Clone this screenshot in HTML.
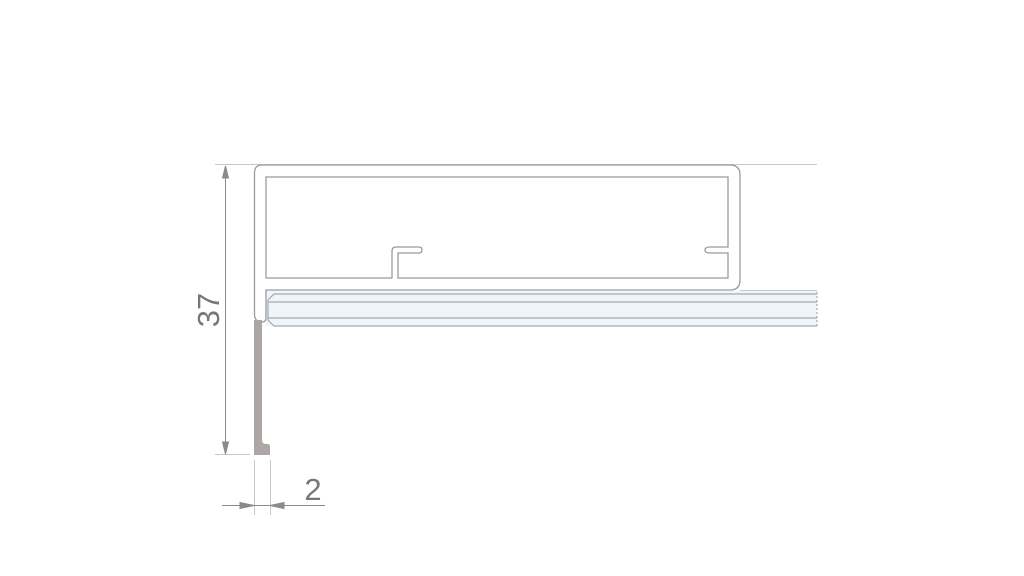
<!DOCTYPE html>
<html><head><style>body{margin:0;background:#fff}svg{display:block}</style></head><body>
<svg width="1024" height="576" viewBox="0 0 1024 576" xmlns="http://www.w3.org/2000/svg">
<g fill="none" stroke="#c8c8c8" stroke-width="1">
<line x1="215" y1="164.5" x2="817" y2="164.5"/>
<line x1="740" y1="290.5" x2="817" y2="290.5"/>
<line x1="215" y1="454.5" x2="250" y2="454.5"/>
<line x1="254.5" y1="460" x2="254.5" y2="515"/>
<line x1="270.5" y1="460" x2="270.5" y2="515"/>
</g>
<rect x="266" y="291" width="551" height="35" fill="#eef6fc"/>
<g fill="none" stroke="#a8a8a8" stroke-width="1.2">
<path d="M817 294 H274 L268 300 V320 L274 326 H817"/>
<line x1="268" y1="302" x2="817" y2="302"/>
<line x1="268" y1="318" x2="817" y2="318"/>
<line x1="817" y1="292" x2="817" y2="327" stroke-dasharray="2,2"/>
</g>
<g fill="none" stroke="#9a9a9a" stroke-width="1.3">
<path d="M262 165 H730 Q740 165 740 175 V280 Q740 290 730 290 H266 V318 Q266 322 262 322 Q255 322 254.5 315 V173 Q254.5 165 262 165 Z"/>
<path d="M266 177 H728 V247 H710 Q705 247 705 250 Q705 253 710 253 H728 V278 H398 V253 H419 Q422 253 422 250 Q422 247 419 247 H396 Q392 247 392 251 V278 H266 Z"/>
</g>
<path d="M254 320 H262 V440 Q262 444 266 444 H268 Q270 444 270 447 V455 H254 Z" fill="#aca7a5"/>
<g stroke="#8a8a8a" stroke-width="1" fill="#8a8a8a">
<line x1="225.5" y1="168" x2="225.5" y2="452"/>
<path d="M225.5 166 L222.5 178 L228.5 178 Z"/>
<path d="M225.5 454 L222.5 442 L228.5 442 Z"/>
<line x1="222" y1="505.5" x2="325" y2="505.5"/>
<path d="M254 505.5 L240 502.5 L240 508.5 Z"/>
<path d="M270 505.5 L284 502.5 L284 508.5 Z"/>
</g>
<text x="0" y="0" transform="translate(219,310) rotate(-90)" text-anchor="middle" font-family="Liberation Sans, sans-serif" font-size="31" fill="#777">37</text>
<text x="313" y="500" text-anchor="middle" font-family="Liberation Sans, sans-serif" font-size="31" fill="#777">2</text>
</svg>
</body></html>
